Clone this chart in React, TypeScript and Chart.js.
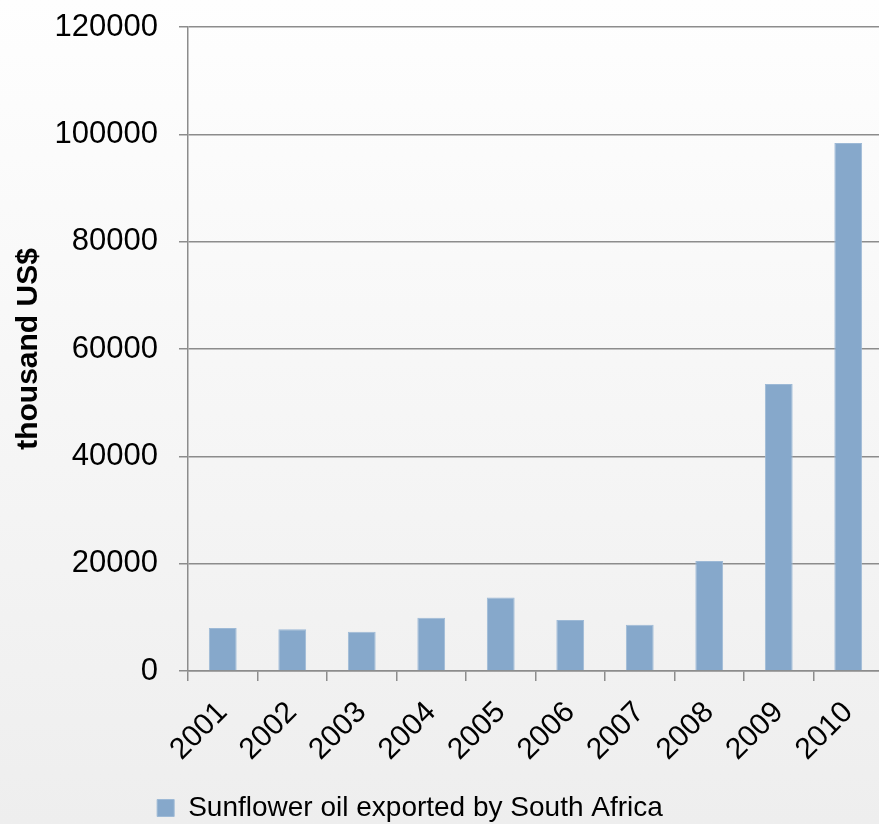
import React, { useEffect, useRef } from "react";
import { Chart, registerables } from "chart.js";

Chart.register(...registerables);

const years = ["2001", "2002", "2003", "2004", "2005", "2006", "2007", "2008", "2009", "2010"];
const exportValues = [8000, 7800, 7300, 9900, 13700, 9500, 8600, 20500, 53500, 98400];
const seriesLabel = "Sunflower oil exported by South Africa";
const yAxisTitle = "thousand US$";
const yMin = 0;
const yMax = 120000;
const yStep = 20000;

const FONT = "'Liberation Sans', Arial, sans-serif";

export default function App() {
  const ref = useRef<HTMLCanvasElement | null>(null);

  useEffect(() => {
    document.body.style.margin = "0";
    const canvas = ref.current;
    if (!canvas) return;

    const legendShift = {
      id: "legendShift",
      beforeDraw(chart: any) {
        const lg = chart.legend;
        if (lg) {
          lg.left = 0;
          lg.right = 820;
          const h = lg.bottom - lg.top;
          lg.top = 824 - h + 8;
          lg.bottom = lg.top + h;
        }
      },
    };

    const chart = new Chart(canvas, {
      type: "bar",
      data: {
        labels: years,
        datasets: [
          {
            label: seriesLabel,
            data: exportValues,
            backgroundColor: "#86A8CB",
            borderColor: "#9DB9D6",
            borderWidth: 1,
            categoryPercentage: 1,
            barPercentage: 0.4,
          },
        ],
      },
      options: {
        responsive: false,
        animation: false,
        devicePixelRatio: 1,
        layout: { padding: { top: 27, right: 12, left: 0, bottom: 0 } },
        plugins: {
          legend: {
            position: "bottom",
            labels: {
              boxWidth: 17,
              boxHeight: 17,
              color: "#000",
              font: { family: FONT, size: 28 },
              padding: 2,
            },
          },
          tooltip: { enabled: false },
        },
        scales: {
          x: {
            grid: {
              offset: true,
              drawOnChartArea: false,
              drawTicks: true,
              tickLength: 10,
              color: "#8c8c8c",
              lineWidth: 1.5,
            },
            border: { color: "#8c8c8c", width: 1.5 },
            ticks: {
              color: "#000",
              font: { family: FONT, size: 30 },
              maxRotation: 45,
              minRotation: 45,
              padding: 14,
            },
            afterFit(scale: any) {
              scale.height = 113;
            },
          },
          y: {
            min: yMin,
            max: yMax,
            grid: {
              color: "#8c8c8c",
              lineWidth: 1.5,
              tickLength: 9,
            },
            border: { color: "#8c8c8c", width: 1.5 },
            ticks: {
              stepSize: yStep,
              color: "#000",
              font: { family: FONT, size: 31 },
              padding: 21,
              callback: (v: any) => String(v),
            },
            title: {
              display: true,
              text: yAxisTitle,
              color: "#000",
              font: { family: FONT, size: 30, weight: "bold" },
              padding: { top: 11, bottom: 0 },
            },
            afterFit(scale: any) {
              scale.width = 188;
              scale.paddingTop = 0;
              scale.paddingBottom = 0;
            },
          },
        },
      },
      plugins: [legendShift],
    } as any);

    return () => chart.destroy();
  }, []);

  return (
    <div
      style={{
        width: 879,
        height: 824,
        overflow: "hidden",
        position: "relative",
        background: "linear-gradient(to bottom, #fefefe 0%, #f6f6f6 50%, #eeeeee 100%)",
      }}
    >
      <canvas ref={ref} width={895} height={824} style={{ display: "block" }} />
    </div>
  );
}
